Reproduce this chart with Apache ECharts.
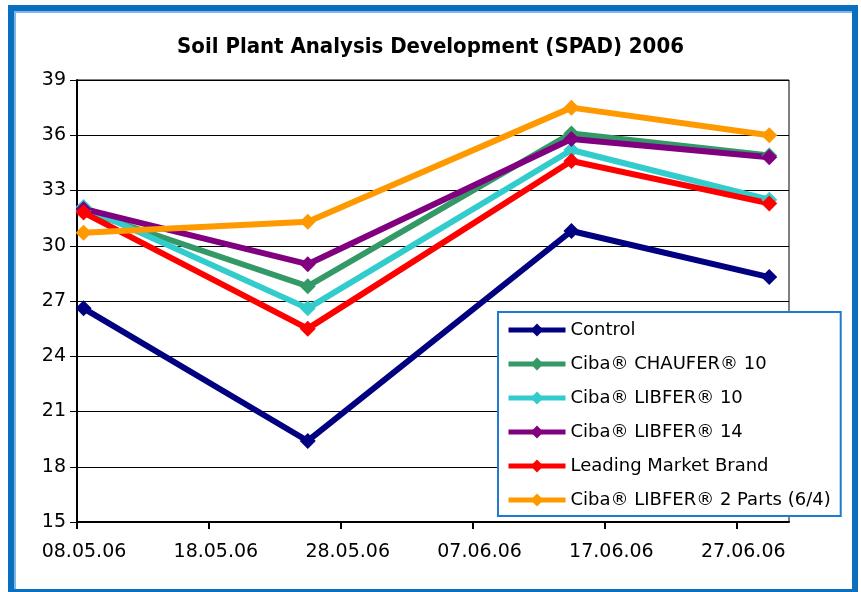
<!DOCTYPE html>
<html>
<head>
<meta charset="utf-8">
<script src="https://cdn.jsdelivr.net/npm/echarts@6/dist/echarts.min.js"></script>
<style>
  html, body { margin: 0; padding: 0; background: #fff; overflow: hidden; }
  #frame { position: absolute; left: 8px; top: 5px; width: 838px; height: 578px;
           border: 6px solid #0A6FBF; box-shadow: inset 2px 2px 0 #7FB8E6; }
  #chart { position: absolute; left: 0; top: 0; width: 861px; height: 592px; }
</style>
</head>
<body>
<div id="frame"></div>
<div id="chart"></div>
<script>
// measurement dates (dd.mm.yy)
var sampleDates = ['08.05.06', '25.05.06', '14.06.06', '29.06.06'];
var xTickLabels = ['08.05.06', '18.05.06', '28.05.06', '07.06.06', '17.06.06', '27.06.06'];
var yTicks = [15, 18, 21, 24, 27, 30, 33, 36, 39];

var control      = [26.6, 19.4, 30.8, 28.3];
var chaufer10    = [31.9, 27.8, 36.1, 34.9];
var libfer10     = [32.1, 26.6, 35.2, 32.5];
var libfer14     = [32.0, 29.0, 35.8, 34.8];
var leadingBrand = [31.8, 25.5, 34.6, 32.3];
var libfer2Parts = [30.7, 31.3, 37.5, 36.0];

var seriesNames = ['Control', 'Ciba® CHAUFER® 10', 'Ciba® LIBFER® 10', 'Ciba® LIBFER® 14',
                   'Leading Market Brand', 'Ciba® LIBFER® 2 Parts (6/4)'];
var seriesColors = ['#000080', '#339966', '#33CCCC', '#800080', '#FF0000', '#FF9900'];
var seriesData = [control, chaufer10, libfer10, libfer14, leadingBrand, libfer2Parts];

function toDay(s) {
    var p = s.split('.');
    return Date.UTC(2000 + (+p[2]), (+p[1]) - 1, +p[0]) / 86400000;
}
var day0 = toDay(xTickLabels[0]);

var series = [];
for (var i = 0; i < seriesData.length; i++) {
    var pts = [];
    for (var j = 0; j < sampleDates.length; j++) {
        // excel date axis: points sit in the middle of the day slot
        pts.push([toDay(sampleDates[j]) - day0 + 0.5, seriesData[i][j]]);
    }
    series.push({
        name: seriesNames[i],
        type: 'line',
        data: pts,
        symbol: 'diamond',
        symbolSize: 16,
        color: seriesColors[i],
        lineStyle: { width: 6, color: seriesColors[i] },
        itemStyle: { color: seriesColors[i] },
        emphasis: { disabled: true },
        animation: false
    });
}

var myChart = echarts.init(document.getElementById('chart'));
var option = {
    textStyle: { fontFamily: 'DejaVu Sans' },
    title: {
        text: 'Soil Plant Analysis Development (SPAD) 2006',
        left: 'center',
        top: 31,
        textStyle: { fontFamily: 'DejaVu Sans Condensed', fontWeight: 'bold', fontSize: 22, color: '#000' }
    },
    grid: {
        left: 77, right: 72, top: 80, bottom: 70,
        show: true, borderColor: '#000', borderWidth: 1
    },
    xAxis: {
        type: 'value',
        min: 0,
        max: 54,
        interval: 10,
        axisLine: { lineStyle: { color: '#000', width: 2 } },
        axisTick: { show: true, length: 7, lineStyle: { color: '#000', width: 2 } },
        splitLine: { show: false },
        axisLabel: {
            margin: 21,
            fontSize: 19,
            color: '#000',
            padding: [0, 0, 0, 14],
            showMaxLabel: false,
            formatter: function (v) { return xTickLabels[Math.round(v / 10)] || ''; }
        }
    },
    yAxis: {
        type: 'value',
        min: yTicks[0],
        max: yTicks[yTicks.length - 1],
        interval: 3,
        axisLine: { show: true, lineStyle: { color: '#000', width: 2 } },
        axisTick: { show: true, length: 7, lineStyle: { color: '#000', width: 1 } },
        splitLine: { lineStyle: { color: '#000', width: 1 } },
        axisLabel: { margin: 11, fontSize: 19, color: '#000' }
    },
    legend: {
        orient: 'vertical',
        left: 498,
        top: 312,
        padding: [8, 10, 6, 8],
        itemGap: 14,
        itemWidth: 57,
        itemHeight: 16,
        backgroundColor: '#fff',
        borderColor: '#1F7AD0',
        borderWidth: 2,
        borderRadius: 0,
        lineStyle: { width: 5 },
        textStyle: { fontSize: 18, color: '#000', lineHeight: 20 },
        data: seriesNames
    },
    series: series
};
myChart.setOption(option);
</script>
</body>
</html>
